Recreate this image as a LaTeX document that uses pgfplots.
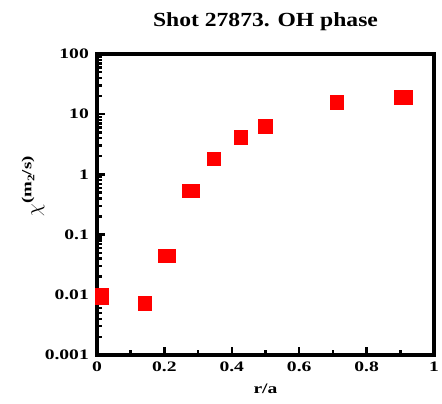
\documentclass[border=0pt]{standalone}
\usepackage{pgfplots}
\pgfplotsset{compat=1.18}
\usepackage{fontspec}
\setmainfont{Liberation Serif}[FakeStretch=1.35]
\newfontfamily\titlefont{Liberation Serif}[FakeStretch=1.18]
\begin{document}
\begin{tikzpicture}
\begin{axis}[
  at={(0,0)}, anchor=south west,
  scale only axis,
  width=337pt, height=301pt,
  xmin=0, xmax=1,
  ymode=log, ymin=0.001, ymax=100,
  axis line style={line width=3.5pt},
  tick pos=left,
  tick align=inside,
  every tick/.style={black, line width=2.4pt},
  major tick length=8pt,
  minor tick length=5pt,
  xtick={0,0.2,0.4,0.6,0.8,1},
  xticklabels={0,0.2,0.4,0.6,0.8,1},
  minor xtick={0.1,0.3,0.5,0.7,0.9},
  ytick={0.001,0.01,0.1,1,10,100},
  yticklabels={0.001,0.01,0.1,1,10,100},
  tick label style={font=\bfseries\fontsize{14.5}{16}\selectfont},
  yticklabel style={inner sep=0pt, xshift=-8pt},
  xticklabel style={inner sep=0pt, yshift=-7pt},
  xlabel={\bfseries r/a},
  xlabel style={font=\fontsize{14.5}{16}\selectfont, at={(axis description cs:0.5,0)}, anchor=base, yshift=-38pt},
  clip=false,
]
\addplot[only marks, mark=square*, mark size=6.85pt, mark options={fill=red, draw=red, line width=0pt}] coordinates {
  (0.015,0.0099) (0.015,0.0088)
  (0.142,0.0071)
  (0.204,0.044) (0.214,0.044)
  (0.275,0.53) (0.285,0.53)
  (0.347,1.81)
  (0.427,4.05)
  (0.499,6.2)
  (0.712,15.5)
  (0.902,18.7) (0.917,18.7)
};
\node[font=\titlefont\bfseries\fontsize{20}{22}\selectfont, anchor=base] at ([yshift=27pt]rel axis cs:0.5,1) {Shot 27873. OH phase};
\node[rotate=90, anchor=center, inner sep=0pt] at ([xshift=-64pt]rel axis cs:0,0.56) {\fontsize{20}{22}\selectfont$\chi$\raisebox{9pt}{\bfseries\fontsize{14}{16}\selectfont(m\raisebox{-3pt}{\fontsize{10}{12}\selectfont 2}/s)}};
\end{axis}
\pgfresetboundingbox
\path[use as bounding box] (-97pt,-49pt) rectangle (345pt,355pt);
\end{tikzpicture}
\end{document}
